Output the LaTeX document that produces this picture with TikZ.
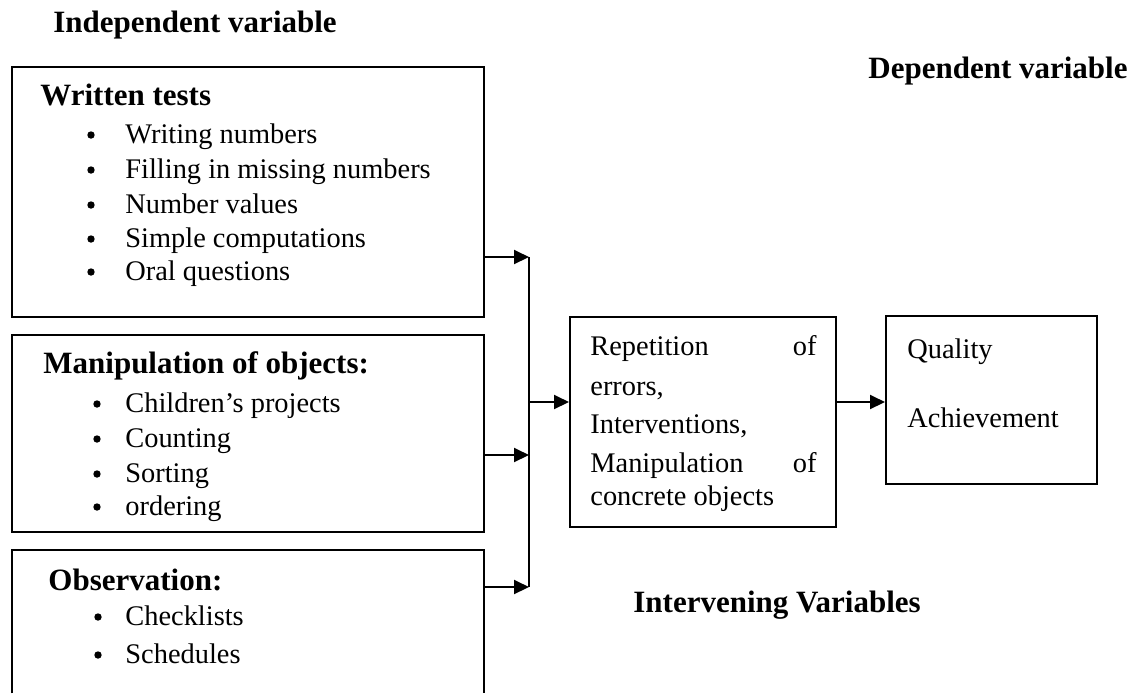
\documentclass[tikz,border=0pt]{standalone}
\usepackage{fontspec}
\setmainfont{Liberation Serif}
\usetikzlibrary{arrows.meta}
\begin{document}
\begin{tikzpicture}[x=0.5pt,y=-0.5pt,
  box/.style={draw, line width=1pt, inner sep=0pt},
  bline/.style={line width=1pt},
  arr/.style={line width=1pt, -{Triangle[length=7.5pt,width=7pt]}},
  ttl/.style={anchor=base west, inner sep=0pt, font=\fontsize{15.5}{18}\selectfont\bfseries},
  txt/.style={anchor=base west, inner sep=0pt, font=\fontsize{14.2}{17}\selectfont},
  txtr/.style={anchor=base east, inner sep=0pt, font=\fontsize{14.2}{17}\selectfont},
  bul/.style={circle, fill, inner sep=0pt, minimum size=3.7pt, yshift=4pt}]
\useasboundingbox (0,0) rectangle (1147,693);

% boxes
\node[box, minimum width=236pt, minimum height=125pt] (wt) at (248,192) {};
\node[box, minimum width=236pt, minimum height=98.5pt] (mo) at (248,433.5) {};
\node[inner sep=0pt, minimum width=236pt, minimum height=71.5pt] (ob) at (248,621.5) {};
\draw[bline] (ob.south west) -- (ob.north west) -- (ob.north east) -- (ob.south east);
\node[box, minimum width=133pt, minimum height=105pt] (iv) at (703,422) {};
\node[box, minimum width=105.5pt, minimum height=84pt] (dv) at (991.5,400) {};

% connectors
\coordinate (bt) at (529,257);
\coordinate (b2) at (529,455);
\coordinate (bb) at (529,587);
\coordinate (bm) at (529,402);
\draw[bline] (bt) -- (bb);
\draw[arr] (wt.east |- bt) -- (bt);
\draw[arr] (mo.east |- b2) -- (b2);
\draw[arr] (ob.east |- bb) -- (bb);
\draw[arr] (bm) -- (iv.west |- bm);
\draw[arr] (iv.east |- bm) -- (dv.west |- bm);

% titles
\node[ttl] (t1) at (53,32) {Independent variable};
\node[ttl] (t2) at (868,78) {Dependent variable};
\node[ttl] (t3) at (633,612) {Intervening Variables};

% box 1
\node[ttl] (h1) at (40,105) {Written tests};
\node[bul] at (91,143) {}; \node[txt] at (125,143) {Writing numbers};
\node[bul] at (91,178) {}; \node[txt] at (125,178) {Filling in missing numbers};
\node[bul] at (91,213) {}; \node[txt] at (125,213) {Number values};
\node[bul] at (91,247) {}; \node[txt] at (125,247) {Simple computations};
\node[bul] at (91,280) {}; \node[txt] at (125,280) {Oral questions};

% box 2
\node[ttl] (h2) at (43,373) {Manipulation of objects:};
\node[bul] at (97,412) {}; \node[txt] at (125,412) {Children’s projects};
\node[bul] at (97,447) {}; \node[txt] at (125,447) {Counting};
\node[bul] at (97,482) {}; \node[txt] at (125,482) {Sorting};
\node[bul] at (97,515) {}; \node[txt] at (125,515) {ordering};

% box 3
\node[ttl] (h3) at (48,590) {Observation:};
\node[bul] at (98,625) {}; \node[txt] at (125,625) {Checklists};
\node[bul] at (98,663) {}; \node[txt] at (125,663) {Schedules};

% middle box
\node[txt] at (590,355) {Repetition};
\node[txtr] at (817,355) {of};
\node[txt] at (590,395) {errors,};
\node[txt] at (590,433) {Interventions,};
\node[txt] at (590,472) {Manipulation};
\node[txtr] at (817,472) {of};
\node[txt] at (590,505) {concrete objects};

% right box
\node[txt] at (907,358) {Quality};
\node[txt] at (907,427) {Achievement};
\end{tikzpicture}
\end{document}
